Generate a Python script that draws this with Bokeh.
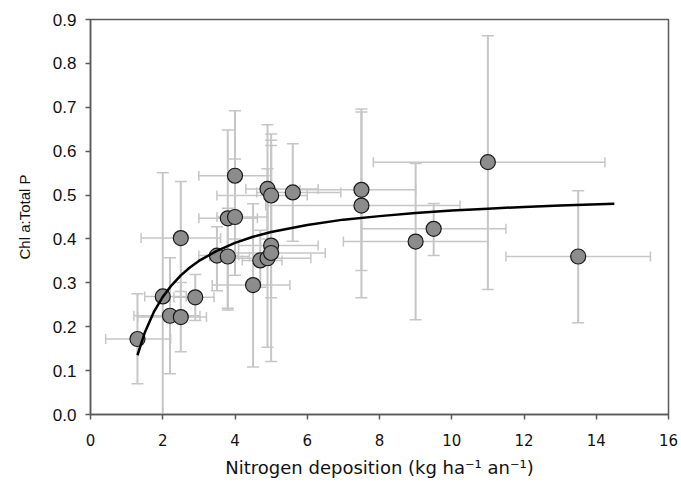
from bokeh.plotting import figure
from bokeh.models import (ColumnDataSource, FixedTicker, NumeralTickFormatter,
                          Range1d, Whisker, TeeHead)
from bokeh.embed import file_html
from bokeh.resources import INLINE

# ===== DATA ==========================================
n_dep = [1.3, 2.0, 2.2, 2.5, 2.5, 2.9, 3.5, 3.8, 3.8, 4.0, 4.0, 4.5, 4.7,
         4.9, 5.0, 5.0, 4.9, 5.0, 5.6, 7.5, 7.5, 9.0, 9.5, 11.0, 13.5]
chl_tp = [0.172, 0.269, 0.225, 0.222, 0.402, 0.267, 0.362, 0.360, 0.447,
          0.450, 0.544, 0.295, 0.351, 0.356, 0.385, 0.368, 0.514, 0.499,
          0.506, 0.512, 0.476, 0.394, 0.423, 0.575, 0.360]

# vertical error bars (lower / upper Chl a:TP)
chl_lo = [0.070, 0.000, 0.093, 0.143, 0.280, 0.214, 0.282, 0.238, 0.242,
          0.317, 0.400, 0.108, 0.290, 0.153, 0.266, 0.121, 0.400, 0.360,
          0.395, 0.328, 0.266, 0.216, 0.362, 0.285, 0.209]
chl_hi = [0.275, 0.551, 0.357, 0.301, 0.531, 0.319, 0.428, 0.470, 0.648,
          0.582, 0.692, 0.480, 0.420, 0.560, 0.613, 0.639, 0.660, 0.625,
          0.617, 0.696, 0.689, 0.572, 0.481, 0.863, 0.510]

# horizontal error bars (lower / upper N deposition)
n_lo = [0.42, 1.50, 1.20, 1.31, 1.40, 2.31, 3.00, 3.30, 3.00, 3.50, 3.00,
        3.37, 4.20, 3.90, 4.10, 3.80, 4.30, 3.50, 4.60, 5.80, 4.85, 7.00,
        7.50, 7.83, 11.50]
n_hi = [2.22, 2.65, 3.03, 3.21, 3.60, 3.42, 4.10, 4.40, 4.62, 4.90, 5.00,
        5.52, 5.30, 6.10, 6.30, 6.50, 6.30, 6.00, 6.93, 9.00, 10.23, 11.00,
        11.50, 14.24, 15.50]

# fitted curve, points
fit_x = [1.3, 1.5, 1.75, 2.0, 2.25, 2.5, 2.75, 3.0, 3.5, 4.0, 4.5, 5.0,
         6.0, 7.0, 8.0, 9.0, 10.0, 11.0, 12.0, 13.0, 14.5]
fit_y = [0.135, 0.186, 0.233, 0.268, 0.295, 0.317, 0.335, 0.350, 0.373,
         0.391, 0.405, 0.416, 0.432, 0.444, 0.452, 0.459, 0.465, 0.469,
         0.473, 0.476, 0.480]

x_ticks = [0, 2, 4, 6, 8, 10, 12, 14, 16]
y_ticks = [0.0, 0.1, 0.2, 0.3, 0.4, 0.5, 0.6, 0.7, 0.8, 0.9]

# ===== PLOT ==========================================
src = ColumnDataSource(data=dict(x=n_dep, y=chl_tp, ylo=chl_lo, yhi=chl_hi,
                                 xlo=n_lo, xhi=n_hi))

p = figure(width=678, height=481, output_backend="svg", toolbar_location=None,
           x_range=Range1d(0, 16), y_range=Range1d(0, 0.9),
           min_border_left=90, min_border_right=10, min_border_top=19,
           min_border_bottom=67)
p.xgrid.visible = False
p.ygrid.visible = False
p.outline_line_color = "#5a5a5a"
p.outline_line_width = 1.5

bar_col = "#c6c6c6"
vbars = Whisker(source=src, base="x", lower="ylo", upper="yhi",
                dimension="height", line_color=bar_col, line_width=2,
                upper_head=TeeHead(size=12, line_color=bar_col, line_width=1.5),
                lower_head=TeeHead(size=12, line_color=bar_col, line_width=1.5))
hbars = Whisker(source=src, base="y", lower="xlo", upper="xhi",
                dimension="width", line_color=bar_col, line_width=1.5,
                upper_head=TeeHead(size=10, line_color=bar_col, line_width=1.5),
                lower_head=TeeHead(size=10, line_color=bar_col, line_width=1.5))
p.add_layout(hbars)
p.add_layout(vbars)

p.scatter("x", "y", source=src, size=15, fill_color="#8c8c8c",
          line_color="#1a1a1a", line_width=1.2)
p.line(fit_x, fit_y, line_color="black", line_width=2.5)

# axes
for ax in (p.xaxis[0], p.yaxis[0]):
    ax.axis_line_color = "#5a5a5a"
    ax.axis_line_width = 1.5
    ax.major_tick_line_color = "#5a5a5a"
    ax.major_tick_line_width = 1.5
    ax.major_tick_in = 0
    ax.major_tick_out = 5
    ax.minor_tick_line_color = None
    ax.major_label_text_color = "#111111"
    ax.axis_label_text_font_style = "normal"
    ax.axis_label_text_color = "#111111"

p.xaxis.ticker = FixedTicker(ticks=x_ticks)
p.xaxis.major_label_text_font = "DejaVu Sans"
p.xaxis.major_label_text_font_size = "15px"
p.xaxis.major_label_standoff = 14
p.xaxis.axis_label = "Nitrogen deposition (kg ha\u207b\u00b9 an\u207b\u00b9)"
p.xaxis.axis_label_text_font = "DejaVu Sans"
p.xaxis.axis_label_text_font_size = "18px"
p.xaxis.axis_label_standoff = 8

p.yaxis.ticker = FixedTicker(ticks=y_ticks)
p.yaxis.formatter = NumeralTickFormatter(format="0.0")
p.yaxis.major_label_text_font = "Liberation Sans"
p.yaxis.major_label_text_font_size = "17px"
p.yaxis.major_label_standoff = 9
p.yaxis.axis_label = "Chl a:Total P"
p.yaxis.axis_label_text_font = "Liberation Sans"
p.yaxis.axis_label_text_font_size = "15px"
p.yaxis.axis_label_standoff = 17

open("out.html", "w").write(file_html(p, INLINE))
